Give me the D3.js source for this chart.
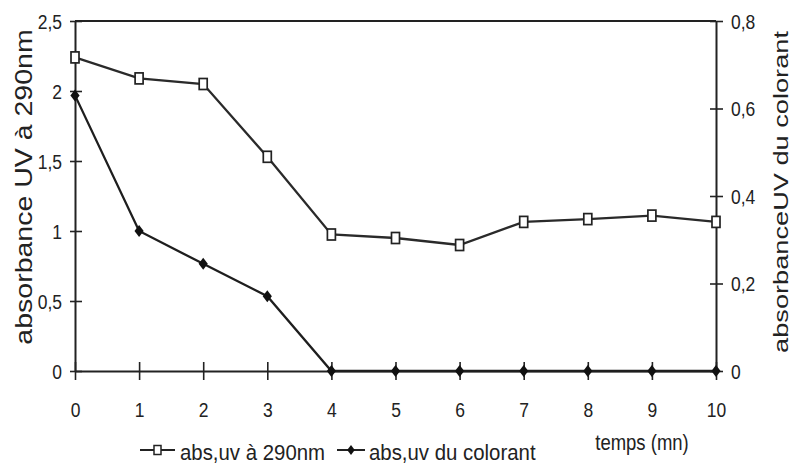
<!DOCTYPE html>
<html>
<head>
<meta charset="utf-8">
<script src="https://cdn.jsdelivr.net/npm/d3@7"></script>
<style>
  html, body { margin: 0; padding: 0; background: #fff; }
  svg { display: block; font-family: "Liberation Sans", Arial, sans-serif; }
  text { fill: #222; }
</style>
</head>
<body>
<svg id="chart" width="793" height="466"></svg>
<script>
// Time (min) on the x axis
const times = [0, 1, 2, 3, 4, 5, 6, 7, 8, 9, 10];
// UV absorbance at 290 nm (left axis)
const abs290 = [2.24, 2.09, 2.05, 1.53, 0.975, 0.95, 0.9, 1.065, 1.085, 1.11, 1.065];
// UV absorbance of the dye (right axis)
const absDye = [0.63, 0.32, 0.245, 0.171, 0, 0, 0, 0, 0, 0, 0];

const leftTicks = [0, 0.5, 1, 1.5, 2, 2.5];
const rightTicks = [0, 0.2, 0.4, 0.6, 0.8];
const seriesNames = ["abs,uv à 290nm", "abs,uv du colorant"];
const xTitle = "temps (mn)";
const leftTitle = "absorbance UV à 290nm";
const rightTitle = "absorbanceUV du colorant";

const svg = d3.select("#chart");
const ink = "#222";
const fmt = d => String(d).replace(".", ",");

const x = d3.scaleLinear().domain([0, 10]).range([75, 716]);
const yL = d3.scaleLinear().domain([0, 2.5]).range([371, 21]);
const yR = d3.scaleLinear().domain([0, 0.8]).range([371, 21]);

const tickFont = 17.5, tickStretch = 1.2;

// Frame (top edge)
svg.append("line")
  .attr("x1", x(0)).attr("x2", x(10))
  .attr("y1", yL(2.5)).attr("y2", yL(2.5))
  .attr("stroke", ink).attr("stroke-width", 2);

// Left axis
const gL = svg.append("g").attr("transform", `translate(${x(0)},0)`)
  .call(d3.axisLeft(yL).tickValues(leftTicks).tickFormat(fmt).tickSizeOuter(0));
gL.select(".domain").attr("stroke", ink).attr("stroke-width", 2);
gL.selectAll(".tick line").attr("x1", -5).attr("x2", 7).attr("stroke", ink).attr("stroke-width", 1.6);
gL.selectAll(".tick text")
  .attr("x", -13).attr("dy", "0.34em")
  .attr("font-size", tickFont).attr("font-family", null).attr("fill", ink)
  .attr("transform", `scale(1,${tickStretch})`);

// Right axis
const gR = svg.append("g").attr("transform", `translate(${x(10)},0)`)
  .call(d3.axisRight(yR).tickValues(rightTicks).tickFormat(fmt).tickSizeOuter(0));
gR.select(".domain").attr("stroke", ink).attr("stroke-width", 2);
gR.selectAll(".tick line").attr("x1", -6).attr("x2", 7).attr("stroke", ink).attr("stroke-width", 1.6);
gR.selectAll(".tick text")
  .attr("x", 15).attr("dy", "0.34em")
  .attr("font-size", tickFont).attr("font-family", null).attr("fill", ink)
  .attr("transform", `scale(1,${tickStretch})`);

// Bottom axis
const gX = svg.append("g").attr("transform", `translate(0,${yL(0)})`)
  .call(d3.axisBottom(x).tickValues(times).tickFormat(d3.format("d")).tickSizeOuter(0));
gX.select(".domain").attr("stroke", ink).attr("stroke-width", 2.2);
gX.selectAll(".tick line").attr("y1", -9).attr("y2", 9).attr("stroke", ink).attr("stroke-width", 1.6);
gX.selectAll(".tick text")
  .attr("y", 46 / tickStretch).attr("dy", 0)
  .attr("font-size", tickFont).attr("font-family", null).attr("fill", ink)
  .attr("transform", `scale(1,${tickStretch})`);

// Axis titles (set vertically, text stretched along its length)
svg.append("text")
  .attr("text-anchor", "middle").attr("font-size", 23)
  .attr("transform", `translate(32,187) rotate(-90) scale(1.24,1)`)
  .text(leftTitle);
svg.append("text")
  .attr("text-anchor", "middle").attr("font-size", 20)
  .attr("transform", `translate(788,192) rotate(-90) scale(1.36,1)`)
  .text(rightTitle);
svg.append("text")
  .attr("text-anchor", "middle").attr("font-size", 18.5)
  .attr("transform", `translate(642,450) scale(1,1.22)`)
  .text(xTitle);

// Series lines
const lineL = d3.line().x((d, i) => x(times[i])).y(d => yL(d));
const lineR = d3.line().x((d, i) => x(times[i])).y(d => yR(d));

svg.append("path").datum(abs290).attr("d", lineL)
  .attr("fill", "none").attr("stroke", "#2a2a2a").attr("stroke-width", 2.3);
svg.append("path").datum(absDye).attr("d", lineR)
  .attr("fill", "none").attr("stroke", "#1e1e1e").attr("stroke-width", 2.3);

const diamond = "M0,-6L4.6,0L0,6L-4.6,0Z";

// Markers
svg.append("g").selectAll("path").data(absDye).join("path")
  .attr("d", diamond)
  .attr("transform", (d, i) => `translate(${x(times[i])},${yR(d)})`)
  .attr("fill", "#111");
svg.append("g").selectAll("rect").data(abs290).join("rect")
  .attr("x", (d, i) => x(times[i]) - 4).attr("y", d => yL(d) - 5.5)
  .attr("width", 8).attr("height", 11)
  .attr("fill", "#fff").attr("stroke", "#222").attr("stroke-width", 1.7);

// Legend
const legendItems = [
  { name: seriesNames[0], x0: 140, x1: 175, tx: 180, kind: "square" },
  { name: seriesNames[1], x0: 337, x1: 365, tx: 369, kind: "diamond" }
];
const legY = 450;
const lg = svg.append("g").selectAll("g").data(legendItems).join("g");
lg.append("line")
  .attr("x1", d => d.x0).attr("x2", d => d.x1)
  .attr("y1", legY).attr("y2", legY)
  .attr("stroke", ink).attr("stroke-width", 2);
lg.filter(d => d.kind === "square").append("rect")
  .attr("x", d => (d.x0 + d.x1) / 2 - 3.5).attr("y", legY - 4.5)
  .attr("width", 7).attr("height", 9)
  .attr("fill", "#fff").attr("stroke", ink).attr("stroke-width", 1.5);
lg.filter(d => d.kind === "diamond").append("path")
  .attr("d", "M0,-5L3.8,0L0,5L-3.8,0Z")
  .attr("transform", d => `translate(${(d.x0 + d.x1) / 2},${legY})`)
  .attr("fill", "#111");
lg.append("text")
  .attr("font-size", 20.4)
  .attr("transform", d => `translate(${d.tx},460) scale(1,1.12)`)
  .text(d => d.name);
</script>
</body>
</html>
